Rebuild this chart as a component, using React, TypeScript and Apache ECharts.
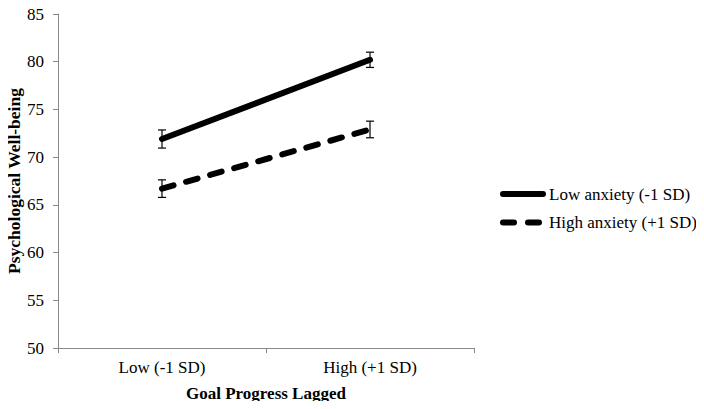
import React, { useEffect, useRef } from "react";
import * as echarts from "echarts";

const categories = ["Low (-1 SD)", "High (+1 SD)"];
const lowAnxiety = [71.9, 80.2];
const lowAnxietyErr = [0.95, 0.8];
const highAnxiety = [66.7, 72.9];
const highAnxietyErr = [0.92, 0.87];
const seriesNames = ["Low anxiety (-1 SD)", "High anxiety (+1 SD)"];
const yAxisTitle = "Psychological Well-being";
const xAxisTitle = "Goal Progress Lagged";

const FONT = "Liberation Serif";
const DASH = [12, 13];

function errorSeries(values: number[], errs: number[]) {
  return {
    type: "custom",
    silent: true,
    z: 5,
    data: values.map((v, i) => [i, v - errs[i], v + errs[i]]),
    renderItem: (params: any, api: any) => {
      const x = api.coord([api.value(0), api.value(1)])[0];
      const lo = api.coord([api.value(0), api.value(1)])[1];
      const hi = api.coord([api.value(0), api.value(2)])[1];
      const w = 4;
      const style = { stroke: "#000", lineWidth: 1.2 };
      return {
        type: "group",
        children: [
          { type: "line", shape: { x1: x, y1: lo, x2: x, y2: hi }, style },
          { type: "line", shape: { x1: x - w, y1: lo, x2: x + w, y2: lo }, style },
          { type: "line", shape: { x1: x - w, y1: hi, x2: x + w, y2: hi }, style },
        ],
      };
    },
  };
}

function legendItem(name: string, y: number, dashed: boolean) {
  return {
    type: "group",
    children: [
      {
        type: "line",
        shape: { x1: 503, y1: y, x2: 543, y2: y },
        style: {
          stroke: "#000",
          lineWidth: 6,
          lineCap: "round",
          lineDash: dashed ? [11, 14] : null,
        },
      },
      {
        type: "text",
        x: 549,
        y: y,
        style: {
          text: name,
          fontFamily: FONT,
          fontSize: 17,
          fill: "#000",
          verticalAlign: "middle",
          align: "left",
        },
      },
    ],
  };
}

export default function App() {
  const ref = useRef<HTMLDivElement>(null);
  useEffect(() => {
    const chart = echarts.init(ref.current!, null, { renderer: "svg" });
    chart.setOption({
      animation: false,
      textStyle: { fontFamily: FONT },
      grid: {
        left: 58,
        top: 14,
        right: 230,
        bottom: 61,
        containLabel: false,
        outerBoundsMode: "none",
      },
      graphic: [
        legendItem(seriesNames[0], 194, false),
        legendItem(seriesNames[1], 222.5, true),
        {
          type: "text",
          x: 14,
          y: 181,
          rotation: Math.PI / 2,
          style: {
            text: yAxisTitle,
            fontFamily: FONT,
            fontSize: 17.5,
            fontWeight: "bold",
            fill: "#000",
            align: "center",
            verticalAlign: "middle",
          },
        },
        {
          type: "text",
          x: 266,
          y: 393,
          style: {
            text: xAxisTitle,
            fontFamily: FONT,
            fontSize: 17,
            fontWeight: "bold",
            fill: "#000",
            align: "center",
            verticalAlign: "middle",
          },
        },
      ],
      xAxis: {
        type: "category",
        data: categories,
        boundaryGap: true,
        axisLine: { lineStyle: { color: "#888", width: 1 } },
        axisTick: { show: true, length: 5, lineStyle: { color: "#888" } },
        axisLabel: { fontFamily: FONT, fontSize: 17, color: "#000", margin: 11 },
      },
      yAxis: {
        type: "value",
        min: 50,
        max: 85,
        interval: 5,
        axisLine: { show: true, lineStyle: { color: "#888", width: 1 } },
        axisTick: { show: true, length: 5, lineStyle: { color: "#888" } },
        axisLabel: { fontFamily: FONT, fontSize: 17, color: "#000", margin: 14 },
        splitLine: { show: false },
      },
      series: [
        {
          name: seriesNames[0],
          type: "line",
          data: lowAnxiety,
          symbol: "none",
          lineStyle: { color: "#000", width: 6, cap: "round" },
          itemStyle: { color: "#000" },
        },
        {
          name: seriesNames[1],
          type: "line",
          data: highAnxiety,
          symbol: "none",
          lineStyle: { color: "#000", width: 6, type: DASH, cap: "round" },
          itemStyle: { color: "#000" },
        },
        errorSeries(lowAnxiety, lowAnxietyErr),
        errorSeries(highAnxiety, highAnxietyErr),
      ],
    });
    return () => chart.dispose();
  }, []);
  return <div ref={ref} style={{ width: 704, height: 409, margin: -8 }} />;
}
